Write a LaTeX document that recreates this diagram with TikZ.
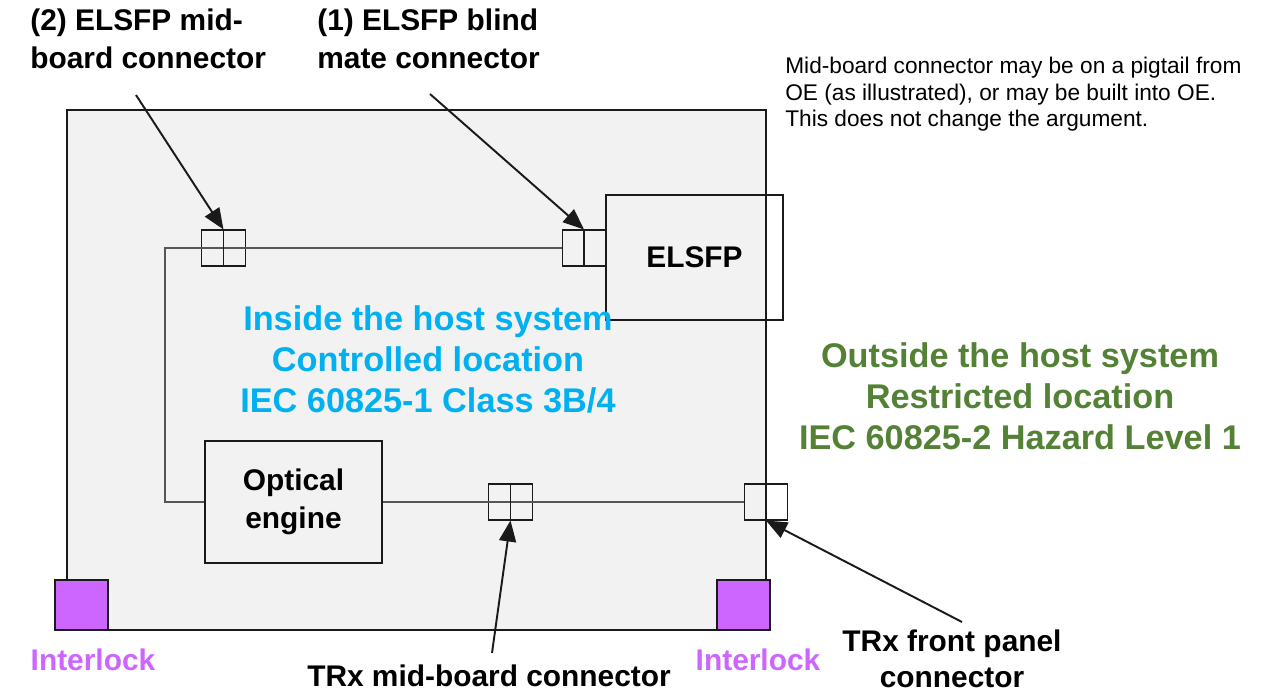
\documentclass[tikz,border=0pt]{standalone}
\usepackage{fontspec}
\setmainfont{Liberation Sans}
\usetikzlibrary{arrows.meta,positioning}
\definecolor{ink}{HTML}{1A1A1A}
\definecolor{hostc}{HTML}{F2F2F2}
\definecolor{wirec}{HTML}{555555}
\definecolor{inside}{HTML}{00B0F0}
\definecolor{outside}{HTML}{538135}
\definecolor{lock}{HTML}{CC66FF}
\tikzset{
  box/.style={draw=ink,line width=0.6pt,inner sep=0pt,align=center},
  conn/.style={draw=ink,line width=0.6pt,minimum width=8.7mm,minimum height=7.2mm,inner sep=0pt},
  lockbox/.style={draw=ink,line width=1.1pt,fill=lock,minimum width=10.6mm,minimum height=10mm,inner sep=0pt},
  wire/.style={wirec,line width=0.6pt},
  ptr/.style={ink,line width=1.1pt,-{Triangle[length=4.2mm,width=3.4mm]}},
  lbl/.style={font=\fontsize{17}{21.5}\selectfont\bfseries,inner sep=0pt},
  zone/.style={font=\fontsize{19.5}{23.3}\selectfont\bfseries,align=center,inner sep=0pt},
  note/.style={font=\fontsize{12.9}{15.1}\selectfont,align=left,inner sep=0pt},
}

\begin{document}
\begin{tikzpicture}[x=0.2mm,y=-0.2mm]
  \useasboundingbox (0,0) rectangle (1271,692);
  % ---------- host system ----------
  \node[box,fill=hostc,minimum width=139.8mm,minimum height=104mm] (host) at (416.5,370) {};
  \node[box,minimum width=35.4mm,minimum height=25mm,lbl] (elsfp) at (694.5,257.5) {ELSFP};
  \node[box,minimum width=35.4mm,minimum height=24.4mm,lbl,align=center] (oe) at (293.5,502) {Optical\\engine};
  % ---------- connectors ----------
  \node[conn] (mbc) at (223.5,248) {};
  \node[conn] (bmc) at (584,248) {};
  \node[conn] (trxmb) at (510.5,502) {};
  \node[conn] (fpc) at (766,502) {};
  \coordinate (jog) at (165,375);
  \draw[wire] (bmc.west) -| (jog) |- (oe.west);
  \draw[wire] (oe.east) -- (fpc.west);
  \draw[ink,line width=0.6pt] (mbc.north) -- (mbc.south);
  \draw[ink,line width=0.6pt] (bmc.north) -- (bmc.south);
  \draw[ink,line width=0.6pt] (trxmb.north) -- (trxmb.south);
  \draw[ink,line width=1.3pt] (fpc.north) -- (fpc.south);
  % ---------- interlocks ----------
  \node[lockbox] (lockl) at (81.5,605) {};
  \node[lockbox] (lockr) at (743.5,605) {};
  \node[lbl,text=lock] (lockltxt) at (93,660) {Interlock};
  \node[lbl,text=lock] (lockrtxt) at (758,660) {Interlock};
  % ---------- zone texts ----------
  \node[zone,text=inside] (intxt) at (428,359) {Inside the host system\\Controlled location\\IEC 60825-1 Class 3B/4};
  \node[zone,text=outside] (outtxt) at (1020,396) {Outside the host system\\Restricted location\\IEC 60825-2 Hazard Level 1};
  \node[note,anchor=north west] (notetxt) at (785,57) {Mid-board connector may be on a pigtail from\\OE (as illustrated), or may be built into OE.\\This does not change the argument.};
  % ---------- callouts ----------
  \node[lbl,align=left,anchor=west] (mblbl) at (30,39) {(2) ELSFP mid-\\board connector};
  \node[lbl,align=left,anchor=west] (bmlbl) at (317,39) {(1) ELSFP blind\\mate connector};
  \node[lbl] (trxmblbl) at (489,676) {TRx mid-board connector};
  \node[lbl,align=center,font=\fontsize{17}{20.5}\selectfont\bfseries] (fplbl) at (952,659) {TRx front panel\\connector};
  \coordinate (mbtail) at (136,95);
  \coordinate (bmtail) at (430,94);
  \coordinate (trxtail) at (492,653);
  \coordinate (fptail) at (962,622);
  \draw[ptr] (mbtail) -- (mbc.north);
  \draw[ptr] (bmtail) -- (bmc.north);
  \draw[ptr] (trxtail) -- (trxmb.south);
  \draw[ptr] (fptail) -- (fpc.south);
\end{tikzpicture}
\end{document}
